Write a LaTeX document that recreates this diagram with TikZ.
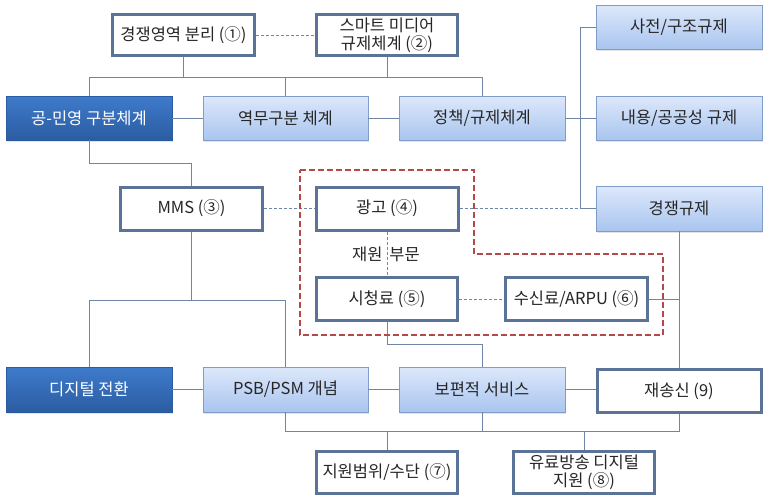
\documentclass[tikz,border=0pt]{standalone}
\usepackage{fontspec}
\setmainfont{Noto Sans CJK KR}
\usetikzlibrary{shadows}
\definecolor{frame}{HTML}{5B7396}
\definecolor{wire}{HTML}{6F86A4}
\definecolor{paleA}{HTML}{DDE8FB}
\definecolor{paleB}{HTML}{A9C5EF}
\definecolor{paleline}{HTML}{7F9DC8}
\definecolor{deepA}{HTML}{3E7BCB}
\definecolor{deepB}{HTML}{2B5CA2}
\definecolor{zone}{HTML}{B5484B}

\begin{document}
\begin{tikzpicture}[x=1pt,y=-1pt,
 item/.style={align=center,font=\fontsize{16.5}{18}\selectfont,inner sep=2pt,
               drop shadow={shadow xshift=1.2pt,shadow yshift=-1.8pt,opacity=.22}},
 plain/.style={item,draw=frame,line width=3pt,fill=white,text=black!85},
 pale/.style={item,draw=paleline,line width=.8pt,top color=paleA,bottom color=paleB,text=black!85},
 deep/.style={item,draw=deepB,line width=.8pt,top color=deepA,bottom color=deepB,text=white},
 link/.style={draw=wire,line width=.8pt},
 dlink/.style={link,dash pattern=on 3pt off 2pt},
 group/.style={draw=zone,line width=2.8pt,dash pattern=on 6pt off 3pt}]
\useasboundingbox (0,0) rectangle (769,498);

\node[plain,minimum width=142,minimum height=41] (sep) at (183.5,35) {경쟁영역 분리 (①)};
\node[plain,minimum width=141,minimum height=41] (smart) at (387,35) {스마트 미디어\\규제체계 (②)};
\node[deep,minimum width=166,minimum height=44] (pubpriv) at (89,118) {공-민영 구분체계};
\node[pale,minimum width=165,minimum height=44] (duty) at (285.5,118) {역무구분 체계};
\node[pale,minimum width=166,minimum height=44] (policy) at (482,118) {정책/규제체계};
\node[pale,minimum width=166,minimum height=44] (exante) at (679,27) {사전/구조규제};
\node[pale,minimum width=166,minimum height=44] (content) at (679,118) {내용/공공성 규제};
\node[pale,minimum width=166,minimum height=45] (comp) at (679,208.5) {경쟁규제};

\node[plain,minimum width=142,minimum height=43] (mms) at (191.5,208.5) {MMS (③)};
\node[plain,minimum width=142,minimum height=43] (ad) at (387,208.5) {광고 (④)};
\node[plain,minimum width=141,minimum height=43] (fee) at (387,299) {시청료 (⑤)};
\node[plain,minimum width=142,minimum height=43] (arpu) at (576.5,299) {수신료/ARPU (⑥)};

\node[deep,minimum width=166,minimum height=45] (digital) at (89,389.5) {디지털 전환};
\node[pale,minimum width=165,minimum height=45] (psb) at (285.5,389.5) {PSB/PSM 개념};
\node[pale,minimum width=166,minimum height=45] (univ) at (482,389.5) {보편적 서비스};
\node[plain,minimum width=164,minimum height=43] (retrans) at (679,391) {재송신 (9)};
\node[plain,minimum width=141,minimum height=42] (support) at (387,472.5) {지원범위/수단 (⑦)};
\node[plain,minimum width=141,minimum height=42] (paydig) at (584,472.5) {유료방송 디지털\\지원 (⑧)};

\coordinate (topbus) at (0,77);
\coordinate (spine) at (580,0);
\coordinate (midrow) at (0,163);
\coordinate (lowbus) at (0,300);
\coordinate (feebend) at (0,344);
\coordinate (botbus) at (0,431);

\begin{scope}[on background layer/.try]
\draw[dlink] (sep) -- (smart);
\draw[link] (pubpriv.north) |- (policy.north |- topbus) -- (policy.north);
\draw[link] (sep.south) -- (sep.south |- topbus);
\draw[link] (smart.south) -- (smart.south |- topbus);
\draw[link] (duty.north) -- (duty.north |- topbus);
\draw[link] (pubpriv) -- (duty);
\draw[link] (duty) -- (policy);
\draw[link] (policy) -- (content);
\draw[link] (exante.west) -| (spine |- comp.west) -- (comp.west);

\draw[link] (pubpriv.south) |- (mms.north |- midrow) -- (mms.north);
\draw[dlink] (mms) -- (ad);
\draw[dlink] (ad.east) -- (spine |- ad.east);
\draw[dlink] (ad) -- (fee);
\node[font=\fontsize{16.5}{18}\selectfont,text=black!85] (source) at (386,254) {재원\hspace{7pt}부문};
\draw[dlink] (fee) -- (arpu);
\draw[link] (arpu.east) -- (comp.south |- arpu.east);
\draw[link] (comp.south) -- (comp.south |- retrans.north);

\draw[link] (digital.north) |- (psb.north |- lowbus) -- (psb.north);
\draw[link] (mms.south) -- (mms.south |- lowbus);
\draw[link] (fee.south) |- (univ.north |- feebend) -- (univ.north);
\draw[link] (digital) -- (psb);
\draw[link] (psb) -- (univ);
\draw[link] (univ.east) -- (retrans.west |- univ.east);
\draw[link] (psb.south) |- (retrans.south |- botbus) -- (retrans.south);
\draw[link] (univ.south) -- (univ.south |- botbus);
\draw[link] (support.north) -- (support.north |- botbus);
\draw[link] (paydig.north) -- (paydig.north |- botbus);
\end{scope}

\draw[group] (300,170) -- (474,170) -- (474,254) -- (663,254) -- (663,335) -- (300,335) -- cycle;
\end{tikzpicture}
\end{document}
